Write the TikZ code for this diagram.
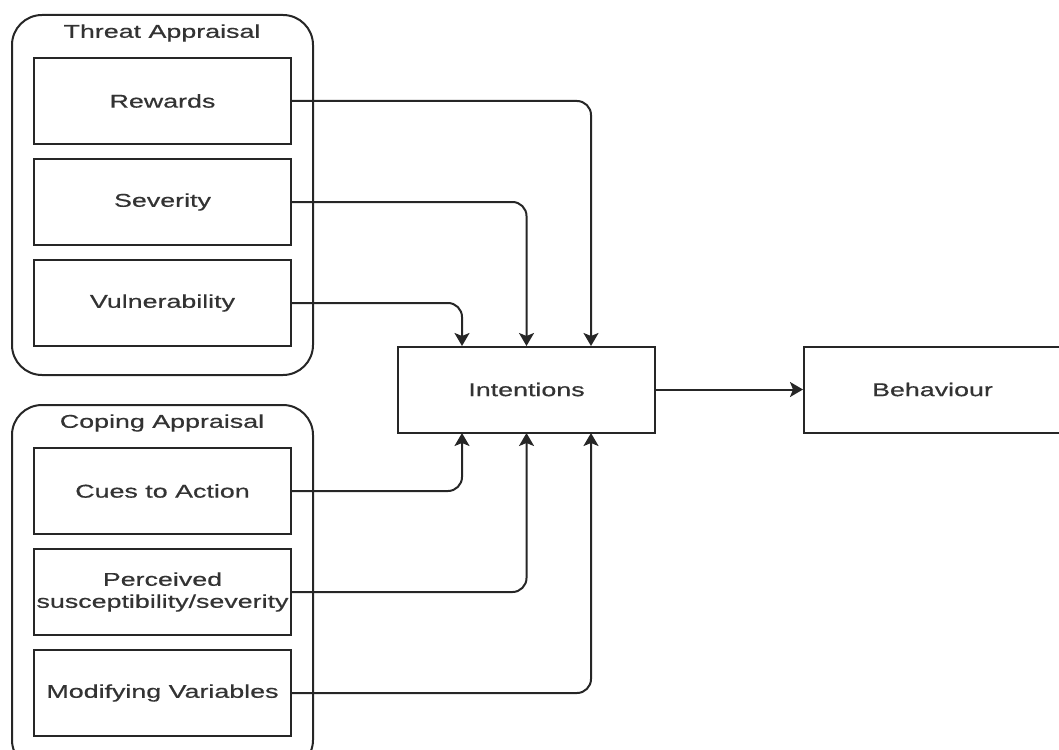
\documentclass[tikz,border=0pt]{standalone}
\usepackage{fontspec}
\setmainfont[FakeStretch=1.45,FakeBold=0.6]{Liberation Sans}
\usetikzlibrary{arrows.meta}

\tikzset{
  group/.style={draw=black!85, line width=2pt, rounded corners=30pt},
  item/.style={draw=black!85, line width=2pt, fill=white, inner sep=0pt,
               minimum width=257pt, minimum height=86pt, align=center,
               font=\fontsize{18.5pt}{22pt}\selectfont, text=black!80},
  grouptitle/.style={font=\fontsize{18.5pt}{22pt}\selectfont, text=black!80},
  link/.style={draw=black!85, line width=2pt, rounded corners=14pt,
               -{Stealth[length=13pt,width=15pt,inset=3pt]}},
}

\begin{document}
\begin{tikzpicture}[x=1pt,y=-1pt]
  \useasboundingbox (0,0) rectangle (1059,749);
  \clip (0,0) rectangle (1059,749);

  % Threat appraisal group
  \draw[group] (12,15) rectangle (313,375);
  \node[grouptitle] (threat) at (162,33) {Threat Appraisal};
  \node[item] (rewards)  at (162.5,101) {Rewards};
  \node[item] (severity) at (162.5,202) {Severity};
  \node[item] (vuln)     at (162.5,303) {Vulnerability};

  % Coping appraisal group (runs past the lower edge)
  \draw[group] (12,405) rectangle (313,770);
  \node[grouptitle] (coping) at (162,423) {Coping Appraisal};
  \node[item] (cues)  at (162.5,491) {Cues to Action};
  \node[item] (perc)  at (162.5,592) {Perceived\\susceptibility/severity};
  \node[item] (modif) at (162.5,693) {Modifying Variables};

  % Outcome boxes
  \node[item] (intent) at (526.5,389.5) {Intentions};
  \node[item, anchor=west] (behav) at (803,389.5) {Behaviour};

  % Connectors into Intentions
  \coordinate (tA) at (462,346);
  \coordinate (tB) at (526.5,346);
  \coordinate (tC) at (591,346);
  \coordinate (bA) at (462,433);
  \coordinate (bB) at (526.5,433);
  \coordinate (bC) at (591,433);

  \draw[link] (rewards.east)  -| (tC);
  \draw[link] (severity.east) -| (tB);
  \draw[link] (vuln.east)     -| (tA);
  \draw[link] (cues.east)     -| (bA);
  \draw[link] (perc.east)     -| (bB);
  \draw[link] (modif.east)    -| (bC);

  \draw[link] (intent.east) -- (behav.west);
\end{tikzpicture}
\end{document}
